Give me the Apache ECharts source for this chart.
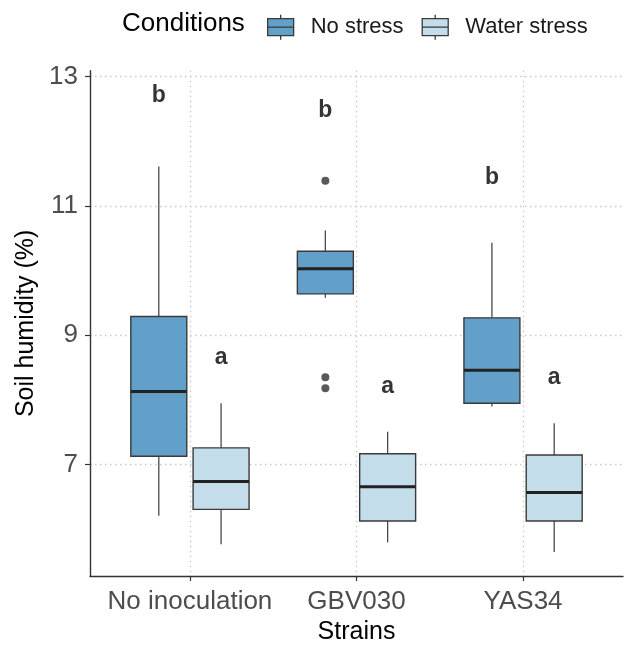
<!DOCTYPE html>
<html>
<head>
<meta charset="utf-8">
<script src="https://cdn.jsdelivr.net/npm/echarts@6/dist/echarts.min.js"></script>
<style>
html,body{margin:0;padding:0;background:#fff;}
#chart{width:624px;height:650px;}
</style>
</head>
<body>
<div id="chart"></div>
<script>
// ---------- data ----------
const categories = ['No inoculation', 'GBV030', 'YAS34'];
const conditions = ['No stress', 'Water stress'];
// [lower whisker, Q1, median, Q3, upper whisker]
const noStressBoxes = [
  [6.21, 7.13, 8.13, 9.29, 11.61],
  [9.58, 9.64, 10.03, 10.30, 10.62],
  [7.90, 7.95, 8.46, 9.27, 10.43]
];
const waterStressBoxes = [
  [5.77, 6.31, 6.74, 7.26, 7.95],
  [5.80, 6.13, 6.66, 7.17, 7.51],
  [5.65, 6.13, 6.57, 7.15, 7.64]
];
// outliers: [category index (0-based), value]
const noStressOutliers = [[1, 11.39], [1, 8.35], [1, 8.18]];
// significance letters
const noStressLetters = ['b', 'b', 'b'];
const noStressLetterY = [12.70, 12.47, 11.43];
const waterStressLetters = ['a', 'a', 'a'];
const waterStressLetterY = [8.66, 8.21, 8.35];
const yTicks = [7, 9, 11, 13];

// ---------- styling ----------
const colNo = '#62a0ca';
const colWater = '#c3deea';
const DODGE = 0.187;       // dodge offset (category units)
const BOXW = 0.336;        // box width (category units)
const FONT = "'Liberation Sans', Arial, sans-serif";

function boxRender(offset, fill) {
  return function (params, api) {
    const x = api.value(0) + offset;
    const lo = api.coord([x, api.value(1)]);
    const q1 = api.coord([x, api.value(2)]);
    const md = api.coord([x, api.value(3)]);
    const q3 = api.coord([x, api.value(4)]);
    const hi = api.coord([x, api.value(5)]);
    const hw = api.size([BOXW, 0])[0] / 2;
    const wStyle = {stroke: '#4a4a4a', lineWidth: 1.3};
    return {
      type: 'group',
      children: [
        {type: 'line', shape: {x1: hi[0], y1: hi[1], x2: q3[0], y2: q3[1]}, style: wStyle},
        {type: 'line', shape: {x1: q1[0], y1: q1[1], x2: lo[0], y2: lo[1]}, style: wStyle},
        {type: 'rect', shape: {x: q3[0] - hw, y: q3[1], width: 2 * hw, height: q1[1] - q3[1]},
         style: {fill: fill, stroke: '#3a3a3a', lineWidth: 1.4}},
        {type: 'line', shape: {x1: md[0] - hw, y1: md[1], x2: md[0] + hw, y2: md[1]},
         style: {stroke: '#222', lineWidth: 3}}
      ]
    };
  };
}

function boxData(arr) {
  return arr.map((b, i) => [i + 1].concat(b));
}
function letterData(letters, ys, offset) {
  return letters.map((t, i) => ({name: t, value: [i + 1 + offset, ys[i]]}));
}
function outlierData(arr, offset) {
  return arr.map(d => [d[0] + 1 + offset, d[1]]);
}

const legendIcon = 'path://M0,4 L26,4 L26,21 L0,21 Z M13,0 L13,4 M13,21 L13,25 M0,12.5 L26,12.5';

const chart = echarts.init(document.getElementById('chart'), null, {renderer: 'canvas'});
chart.setOption({
  animation: false,
  backgroundColor: '#fff',
  textStyle: {fontFamily: FONT},
  title: {
    text: 'Conditions', left: 117, top: 6,
    textStyle: {fontFamily: FONT, fontSize: 26, fontWeight: 'normal', color: '#000'}
  },
  legend: {
    left: 262, top: 9,
    itemWidth: 26, itemHeight: 25, itemGap: 18,
    textStyle: {fontFamily: FONT, fontSize: 22, color: '#1a1a1a', padding: [0, 0, 0, 12]},
    data: [
      {name: conditions[0], icon: legendIcon, itemStyle: {color: colNo, borderColor: '#3a3a3a', borderWidth: 1.3}},
      {name: conditions[1], icon: legendIcon, itemStyle: {color: colWater, borderColor: '#3a3a3a', borderWidth: 1.3}}
    ]
  },
  grid: {left: 90, right: 1, top: 70.7, bottom: 71},
  xAxis: {
    type: 'value', min: 0.4, max: 3.6,
    name: 'Strains', nameLocation: 'middle', nameGap: 44,
    nameTextStyle: {fontFamily: FONT, fontSize: 25, color: '#000'},
    axisLine: {show: true, lineStyle: {color: '#333', width: 1.4}},
    axisTick: {show: true, customValues: [1, 2, 3], length: 5, lineStyle: {color: '#333', width: 1.2}},
    axisLabel: {customValues: [1, 2, 3], formatter: v => categories[Math.round(v) - 1] || '',
      fontFamily: FONT, fontSize: 26, color: '#4d4d4d', margin: 13},
    splitLine: {show: true, lineStyle: {color: '#c9c9c9', width: 1.3, type: [1.5, 3.5]}}
  },
  yAxis: {
    type: 'value', min: 5.28, max: 13.09,
    name: 'Soil humidity (%)', nameLocation: 'middle', nameGap: 43,
    nameTextStyle: {fontFamily: FONT, fontSize: 25, color: '#000'},
    axisLine: {show: true, lineStyle: {color: '#333', width: 1.4}},
    axisTick: {show: true, customValues: yTicks, length: 5, lineStyle: {color: '#333', width: 1.2}},
    axisLabel: {customValues: yTicks, fontFamily: FONT, fontSize: 26, color: '#4d4d4d', margin: 12},
    splitLine: {show: true, lineStyle: {color: '#c9c9c9', width: 1.3, type: [1.5, 3.5]}}
  },
  series: [
    {
      name: conditions[0], type: 'custom', renderItem: boxRender(-DODGE, colNo),
      itemStyle: {color: colNo}, data: boxData(noStressBoxes), z: 3
    },
    {
      name: conditions[1], type: 'custom', renderItem: boxRender(DODGE, colWater),
      itemStyle: {color: colWater}, data: boxData(waterStressBoxes), z: 3
    },
    {
      name: conditions[0], type: 'scatter', symbolSize: 8,
      itemStyle: {color: '#595959', opacity: 1}, data: outlierData(noStressOutliers, -DODGE), z: 4
    },
    {
      name: conditions[0] + ' letters', type: 'scatter', symbolSize: 0, silent: true,
      data: letterData(noStressLetters, noStressLetterY, -DODGE),
      label: {show: true, position: 'inside', formatter: p => p.name, fontFamily: FONT, fontSize: 23, fontWeight: 'bold', color: '#000'}, z: 5
    },
    {
      name: conditions[1] + ' letters', type: 'scatter', symbolSize: 0, silent: true,
      data: letterData(waterStressLetters, waterStressLetterY, DODGE),
      label: {show: true, position: 'inside', formatter: p => p.name, fontFamily: FONT, fontSize: 23, fontWeight: 'bold', color: '#000'}, z: 5
    }
  ]
});
</script>
</body>
</html>
